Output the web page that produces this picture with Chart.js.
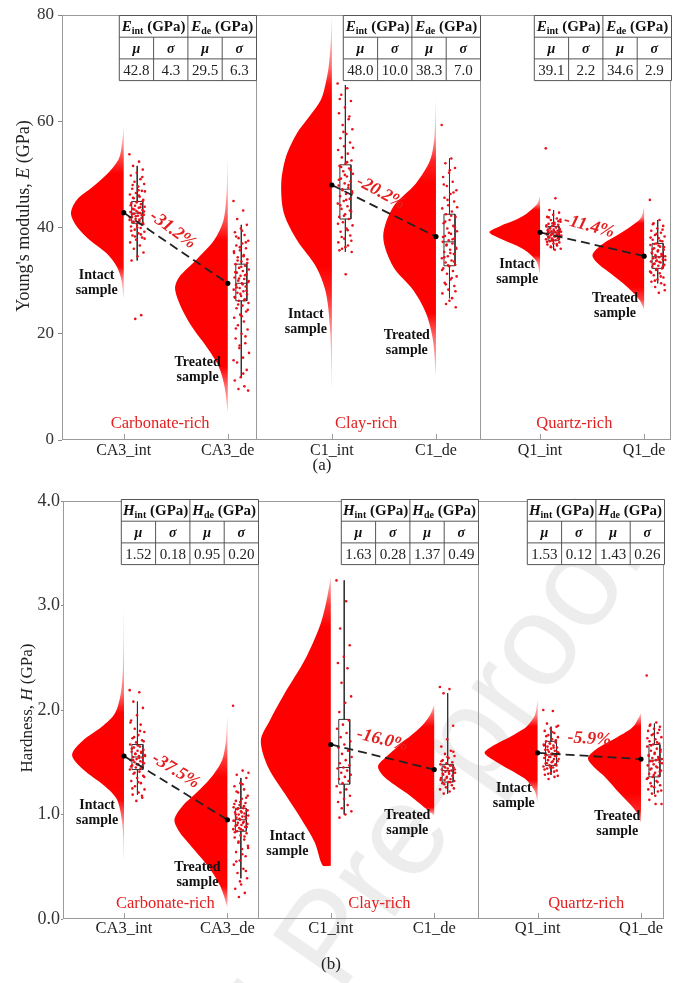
<!DOCTYPE html>
<html>
<head>
<meta charset="utf-8">
<script src="https://cdn.jsdelivr.net/npm/chart.js@4.4.1/dist/chart.umd.min.js"></script>
<style>
  html, body { margin: 0; padding: 0; background: #fff; }
  #wrap { position: relative; width: 675px; height: 983px; overflow: hidden; }
  .panel { position: absolute; left: 0; width: 675px; }
</style>
</head>
<body>
<div id="wrap">
  <div class="panel" style="top:0;height:480px"><canvas id="chartE"></canvas></div>
  <div class="panel" style="top:480px;height:503px"><canvas id="chartH"></canvas></div>
</div>
<script>
// categories shared by both panels
const categories = ["CA3_int", "CA3_de", "C1_int", "C1_de", "Q1_int", "Q1_de"];
const groupNames = ["Carbonate-rich", "Clay-rich", "Quartz-rich"];

// ---- (a) Young's modulus, GPa ----
const eTicks = [0, 20, 40, 60, 80];
const eMeans = [42.8, 29.5, 48.0, 38.3, 39.1, 34.6];
const eTable = [["42.8", "4.3", "29.5", "6.3"], ["48.0", "10.0", "38.3", "7.0"], ["39.1", "2.2", "34.6", "2.9"]];
const eChange = ["-31.2%", "-20.2%", "-11.4%"];
// box: [lower whisker, q1, median, q3, upper whisker]
const eBox = [
  [33.8, 40.8, 42.7, 44.9, 51.6],
  [11.8, 26.2, 29.5, 33.1, 40.5],
  [35.4, 41.6, 47.2, 51.8, 66.8],
  [26.7, 32.8, 37.3, 42.5, 53.0],
  [35.8, 37.6, 39.0, 40.2, 43.3],
  [29.5, 32.3, 34.5, 37.0, 41.4]
];
const ePoints = [
  [53.8, 52.4, 51.6, 50.9, 50.3, 49.8, 49.1, 48.6, 48.2, 47.7, 47.3, 46.9, 46.5, 46.2, 45.8, 45.5, 45.2, 44.9, 44.6, 44.4, 44.1, 43.9, 43.7, 43.5, 43.3, 43.1, 42.9, 42.7, 42.6, 42.4, 42.2, 42.0, 41.8, 41.6, 41.4, 41.2, 41.0, 40.8, 40.5, 40.2, 39.9, 39.6, 39.2, 38.9, 38.5, 38.1, 37.7, 37.2, 36.6, 36.0, 35.3, 34.6, 33.8, 23.5, 22.8,
   46.8, 46.0, 45.6, 45.0, 44.7, 44.2, 43.8, 43.4, 43.0, 42.8, 42.5, 42.3, 42.1, 41.9, 41.5, 41.1, 40.6, 40.0, 39.4, 38.7, 38.3, 37.9, 47.0, 48.0, 49.5],
  [45.0, 43.2, 41.6, 40.5, 39.8, 39.1, 38.6, 38.0, 37.5, 37.0, 36.6, 36.1, 35.7, 35.2, 34.8, 34.4, 34.0, 33.6, 33.1, 32.8, 32.4, 32.1, 31.8, 31.5, 31.2, 30.9, 30.6, 30.3, 30.0, 29.7, 29.5, 29.2, 28.9, 28.6, 28.3, 28.0, 27.7, 27.4, 27.1, 26.8, 26.5, 26.2, 25.8, 25.3, 24.8, 24.2, 23.6, 23.0, 22.3, 21.6, 20.8, 20.0, 19.1, 18.2, 17.3, 16.4, 15.5, 14.6, 13.2, 11.8, 11.2, 10.1, 9.6, 9.3,
   39.4, 38.3, 37.2, 36.3, 35.5, 34.6, 33.8, 33.3, 32.6, 31.6, 31.0, 30.4, 29.9, 29.3, 28.7, 28.1, 27.5, 26.9, 26.3, 25.5, 24.5, 23.3, 21.0, 19.5, 17.8, 15.0, 12.5],
  [67.1, 66.2, 65.0, 63.8, 62.6, 61.5, 60.4, 59.3, 58.5, 57.6, 56.8, 56.0, 55.3, 54.6, 53.9, 53.2, 52.6, 52.0, 51.6, 51.1, 50.6, 50.1, 49.6, 49.2, 48.7, 48.3, 47.9, 47.5, 47.2, 46.8, 46.3, 45.9, 45.4, 45.0, 44.5, 44.0, 43.5, 43.0, 42.5, 42.0, 41.6, 41.0, 40.4, 39.8, 39.2, 38.5, 37.9, 37.2, 36.6, 36.0, 35.4, 31.2,
   64.2, 60.9, 58.0, 55.0, 52.3, 51.4, 50.8, 49.9, 49.0, 48.0, 47.0, 46.5, 45.2, 44.2, 43.2, 42.2, 40.7, 39.5, 38.2, 37.5, 36.3, 35.7],
  [59.3, 53.0, 52.1, 51.2, 50.3, 49.5, 48.6, 47.8, 47.0, 46.3, 45.6, 44.9, 44.2, 43.6, 43.0, 42.5, 42.0, 41.4, 40.8, 40.3, 39.8, 39.3, 38.8, 38.4, 38.0, 37.6, 37.3, 37.0, 36.6, 36.2, 35.8, 35.4, 35.0, 34.6, 34.2, 33.8, 33.4, 33.0, 32.7, 32.3, 31.8, 31.3, 30.8, 30.2, 29.6, 29.0, 28.3, 27.6, 26.7, 25.6, 25.0,
   50.8, 48.1, 46.6, 45.2, 43.8, 42.2, 41.1, 40.0, 39.0, 38.2, 37.8, 36.8, 36.0, 35.2, 34.4, 33.6, 32.9, 32.0, 30.5, 29.3, 28.0, 26.2],
  [54.9, 45.5, 43.3, 42.8, 42.4, 42.0, 41.7, 41.4, 41.1, 40.9, 40.7, 40.5, 40.3, 40.2, 40.0, 39.9, 39.7, 39.6, 39.5, 39.4, 39.3, 39.2, 39.1, 39.0, 38.9, 38.8, 38.7, 38.6, 38.5, 38.4, 38.3, 38.2, 38.0, 37.9, 37.8, 37.6, 37.4, 37.2, 37.0, 36.8, 36.6, 36.3, 36.0, 35.8,
   41.9, 41.2, 40.8, 40.4, 40.1, 39.8, 39.6, 39.3, 39.1, 38.9, 38.7, 38.5, 38.3, 38.1, 37.9, 37.7, 37.3, 36.9, 36.4, 41.5, 40.6, 39.4, 38.6, 37.5],
  [45.2, 41.4, 40.8, 40.3, 39.8, 39.4, 39.0, 38.6, 38.3, 38.0, 37.7, 37.4, 37.0, 36.7, 36.4, 36.1, 35.8, 35.5, 35.3, 35.0, 34.8, 34.6, 34.4, 34.2, 34.0, 33.8, 33.6, 33.4, 33.2, 33.0, 32.8, 32.6, 32.3, 32.0, 31.7, 31.4, 31.0, 30.6, 30.2, 29.8, 29.5, 28.8, 28.2, 27.7,
   40.6, 39.6, 38.8, 38.1, 37.5, 36.9, 36.3, 35.7, 35.1, 34.7, 34.3, 33.9, 33.5, 33.1, 32.7, 32.2, 31.5, 30.8, 30.0, 29.2, 36.6, 35.9, 34.9, 33.7]
];
// half-violin outlines: [value, relative width]
const eViolin = [
  [[59, 0], [56, 0.03], [53, 0.09], [50.2, 0.30], [47.7, 0.58], [45.2, 0.89], [42.7, 1.0], [40.2, 0.89], [37.6, 0.64], [35.1, 0.32], [32.6, 0.13], [30, 0.04], [26.4, 0]],
  [[53.3, 0], [47, 0.02], [41.4, 0.08], [37.6, 0.26], [33.9, 0.60], [30.7, 0.92], [28.5, 1.0], [25.1, 0.89], [21.3, 0.68], [17.5, 0.40], [13.8, 0.17], [10, 0.06], [5, 0]],
  [[80, 0], [75, 0.02], [70.3, 0.06], [67, 0.12], [64, 0.21], [61, 0.42], [57.8, 0.66], [53.3, 0.87], [48.3, 0.96], [42.7, 0.91], [37.6, 0.66], [32.6, 0.30], [27.6, 0.11], [20, 0.03], [9.4, 0]],
  [[64, 0], [57, 0.03], [52.7, 0.11], [48.3, 0.38], [43.9, 0.81], [38.3, 1.0], [32.6, 0.81], [28.2, 0.43], [23.9, 0.19], [19, 0.06], [11.9, 0]],
  [[46, 0], [44.5, 0.05], [43.3, 0.17], [42.3, 0.3], [41.4, 0.47], [40.3, 0.75], [39.1, 0.96], [37.9, 0.75], [36.7, 0.47], [35.8, 0.3], [34.8, 0.17], [33.5, 0.06], [31, 0]],
  [[44, 0], [42, 0.05], [40.8, 0.17], [38.9, 0.45], [36.8, 0.80], [34.8, 0.98], [33, 0.85], [31.4, 0.64], [28.8, 0.32], [26.4, 0.09], [24.5, 0]]
];

// ---- (b) Hardness, GPa ----
const hTicks = [0, 1, 2, 3, 4];
const hMeans = [1.56, 0.95, 1.67, 1.43, 1.59, 1.53];
const hTable = [["1.52", "0.18", "0.95", "0.20"], ["1.63", "0.28", "1.37", "0.49"], ["1.53", "0.12", "1.43", "0.26"]];
const hChange = ["-37.5%", "-16.0%", "-5.9%"];
const hBox = [
  [1.19, 1.43, 1.55, 1.67, 2.08],
  [0.39, 0.84, 0.95, 1.06, 1.35],
  [1.00, 1.29, 1.45, 1.91, 3.24],
  [1.20, 1.31, 1.42, 1.48, 2.16],
  [1.38, 1.47, 1.57, 1.70, 1.84],
  [1.20, 1.36, 1.52, 1.67, 1.87]
];
const hPoints = [
  [2.19, 2.17, 2.08, 2.02, 1.95, 1.90, 1.86, 1.82, 1.79, 1.76, 1.73, 1.71, 1.69, 1.67, 1.65, 1.64, 1.62, 1.61, 1.60, 1.59, 1.58, 1.57, 1.56, 1.55, 1.54, 1.53, 1.52, 1.51, 1.50, 1.49, 1.48, 1.47, 1.46, 1.45, 1.43, 1.41, 1.39, 1.37, 1.35, 1.32, 1.30, 1.27, 1.24, 1.21, 1.19, 1.16, 1.13,
   1.88, 1.80, 1.74, 1.70, 1.66, 1.63, 1.60, 1.58, 1.56, 1.54, 1.52, 1.50, 1.48, 1.46, 1.44, 1.40, 1.36, 1.31, 1.25, 1.18],
  [2.04, 1.42, 1.38, 1.35, 1.30, 1.27, 1.24, 1.21, 1.18, 1.15, 1.13, 1.11, 1.09, 1.07, 1.06, 1.05, 1.04, 1.03, 1.02, 1.01, 1.00, 0.99, 0.98, 0.97, 0.96, 0.95, 0.94, 0.93, 0.92, 0.91, 0.90, 0.89, 0.88, 0.87, 0.86, 0.85, 0.84, 0.82, 0.80, 0.78, 0.76, 0.73, 0.70, 0.67, 0.64, 0.60, 0.56, 0.52, 0.48, 0.44, 0.39, 0.33, 0.29, 0.25, 0.21,
   1.40, 1.29, 1.22, 1.16, 1.12, 1.10, 1.08, 1.06, 1.04, 1.02, 1.00, 0.98, 0.96, 0.94, 0.92, 0.90, 0.88, 0.86, 0.83, 0.79, 0.74, 0.68, 0.62, 0.55, 0.46, 0.36],
  [3.24, 3.04, 2.78, 2.62, 2.51, 2.45, 2.40, 2.26, 2.13, 2.07, 1.98, 1.90, 1.86, 1.82, 1.78, 1.74, 1.70, 1.67, 1.64, 1.61, 1.58, 1.55, 1.52, 1.49, 1.47, 1.45, 1.44, 1.42, 1.40, 1.38, 1.36, 1.34, 1.32, 1.30, 1.27, 1.24, 1.21, 1.18, 1.15, 1.12, 1.09, 1.06, 1.03, 1.00, 0.97],
  [2.22, 2.20, 2.16, 1.85, 1.72, 1.65, 1.61, 1.58, 1.56, 1.54, 1.52, 1.50, 1.49, 1.48, 1.47, 1.46, 1.45, 1.44, 1.43, 1.42, 1.41, 1.40, 1.39, 1.38, 1.37, 1.36, 1.35, 1.34, 1.33, 1.32, 1.31, 1.30, 1.28, 1.26, 1.24, 1.22, 1.20,
   1.60, 1.55, 1.51, 1.47, 1.45, 1.43, 1.41, 1.39, 1.37, 1.35, 1.33, 1.31, 1.29, 1.25],
  [2.00, 1.99, 1.87, 1.84, 1.82, 1.80, 1.78, 1.76, 1.74, 1.72, 1.70, 1.69, 1.68, 1.67, 1.66, 1.65, 1.64, 1.63, 1.62, 1.61, 1.60, 1.59, 1.58, 1.57, 1.56, 1.55, 1.54, 1.53, 1.52, 1.51, 1.50, 1.49, 1.48, 1.47, 1.46, 1.45, 1.44, 1.42, 1.40, 1.38, 1.36, 1.34,
   1.85, 1.79, 1.75, 1.71, 1.68, 1.66, 1.64, 1.62, 1.60, 1.58, 1.57, 1.56, 1.55, 1.53, 1.51, 1.49, 1.47, 1.45, 1.43, 1.41, 1.39, 1.37],
  [2.33, 1.88, 1.86, 1.84, 1.82, 1.80, 1.78, 1.76, 1.74, 1.72, 1.70, 1.68, 1.67, 1.65, 1.63, 1.61, 1.60, 1.58, 1.57, 1.55, 1.54, 1.53, 1.52, 1.51, 1.50, 1.48, 1.47, 1.45, 1.44, 1.42, 1.40, 1.39, 1.37, 1.36, 1.34, 1.32, 1.30, 1.28, 1.26, 1.24, 1.22, 1.20, 1.10, 1.10,
   1.85, 1.81, 1.77, 1.73, 1.69, 1.66, 1.62, 1.59, 1.56, 1.53, 1.51, 1.49, 1.46, 1.43, 1.41, 1.38, 1.35, 1.31, 1.27, 1.23, 1.18, 1.14]
];
const hViolin = [
  [[2.98, 0], [2.4, 0.02], [2.16, 0.06], [1.97, 0.17], [1.84, 0.42], [1.71, 0.77], [1.57, 0.98], [1.43, 0.77], [1.27, 0.36], [1.14, 0.13], [0.9, 0.03], [0.56, 0]],
  [[1.95, 0], [1.7, 0.03], [1.52, 0.1], [1.36, 0.30], [1.2, 0.60], [1.08, 0.85], [0.95, 1.0], [0.83, 0.9], [0.73, 0.74], [0.5, 0.36], [0.31, 0.13], [0.11, 0]],
  [[3.27, 0], [3.0, 0.1], [2.8, 0.21], [2.48, 0.49], [2.16, 0.87], [1.9, 1.15], [1.71, 1.32], [1.46, 1.19], [1.2, 0.87], [0.95, 0.55], [0.73, 0.30], [0.51, 0.15], [0.51, 0]],
  [[2.05, 0], [1.95, 0.08], [1.84, 0.25], [1.68, 0.62], [1.55, 0.91], [1.46, 1.06], [1.36, 0.94], [1.2, 0.51], [1.07, 0.19], [0.99, 0]],
  [[2.1, 0], [1.95, 0.05], [1.84, 0.21], [1.79, 0.36], [1.74, 0.53], [1.67, 0.8], [1.59, 1.0], [1.51, 0.8], [1.43, 0.53], [1.38, 0.36], [1.33, 0.21], [1.22, 0.05], [1.11, 0]],
  [[1.97, 0], [1.84, 0.15], [1.74, 0.45], [1.64, 0.8], [1.54, 1.0], [1.45, 0.88], [1.36, 0.68], [1.2, 0.40], [1.04, 0.11], [0.92, 0]]
];

// label placement (x in category units, y in data units)
const eNoteAt = [[-0.26, 29.6], [0.71, 13.2], [1.75, 22.2], [2.72, 18.3], [3.78, 31.6], [4.72, 25.2]];
const eGroupAt = [[0.35, 3.0], [2.33, 3.0], [4.33, 3.0]];
const hNoteAt = [[-0.26, 1.02], [0.71, 0.42], [1.58, 0.72], [2.74, 0.92], [3.77, 1.18], [4.77, 0.91]];
const hGroupAt = [[0.40, 0.15], [2.47, 0.15], [4.47, 0.15]];

const SERIF = '"Liberation Serif", "Times New Roman", serif';
const RED = "#ff0000";
const LABEL_RED = "#e3201f";
const BOX_OFF = 0.13, BOX_HW = 0.053, JIT = 0.075;

function violinFill(c, prof) {
  const ch = c.chart, ys = ch.scales && ch.scales.y;
  if (!ch.chartArea || !ys) return RED;
  const top = ys.getPixelForValue(prof[0][0]);
  const bot = ys.getPixelForValue(prof[prof.length - 1][0]);
  if (!(bot > top)) return RED;
  const gr = ch.ctx.createLinearGradient(0, top, 0, bot);
  prof.forEach(p => {
    const off = Math.min(1, Math.max(0, (ys.getPixelForValue(p[0]) - top) / (bot - top)));
    const a = Math.min(1, 0.2 + p[1] * 6);
    gr.addColorStop(off, "rgba(255,0,0," + a + ")");
  });
  return gr;
}

function makeDatasets(vio, vScale, box, pts, means) {
  const out = [];
  vio.forEach((prof, g) => {
    out.push({
      type: "line", order: 4,
      data: prof.map(p => ({ x: g - p[1] * vScale, y: p[0] })),
      borderColor: "rgba(0,0,0,0)", borderWidth: 0, pointRadius: 0,
      tension: 0.3, fill: "shape",
      backgroundColor: c => violinFill(c, prof)
    });
  });
  pts.forEach((vals, g) => {
    out.push({
      type: "scatter", order: 1,
      data: vals.map((v, i) => ({ x: g + BOX_OFF + JIT * 2 * (((i * 0.618034) % 1) - 0.5), y: v })),
      pointRadius: 1.3, pointBorderWidth: 0, backgroundColor: "#e8101a"
    });
  });
  box.forEach((b, g) => {
    const cx = g + BOX_OFF, l = cx - BOX_HW, r = cx + BOX_HW;
    out.push({
      type: "line", order: 2, spanGaps: false, fill: false, tension: 0,
      data: [
        { x: cx, y: b[4] }, { x: cx, y: b[3] }, { x: cx, y: null },
        { x: l, y: b[3] }, { x: r, y: b[3] }, { x: r, y: b[1] }, { x: l, y: b[1] }, { x: l, y: b[3] }, { x: cx, y: null },
        { x: l, y: b[2] }, { x: r, y: b[2] }, { x: cx, y: null },
        { x: cx, y: b[1] }, { x: cx, y: b[0] }
      ],
      borderColor: "#333", borderWidth: 1, pointRadius: 0
    });
  });
  for (let k = 0; k < 3; k++) {
    out.push({
      type: "line", order: 0, fill: false,
      data: [{ x: 2 * k, y: means[2 * k] }, { x: 2 * k + 1, y: means[2 * k + 1] }],
      borderColor: "#222", borderWidth: 1.8, borderDash: [9, 5],
      pointRadius: 2.6, pointBorderWidth: 0, pointBackgroundColor: "#000"
    });
  }
  return out;
}

function drawRich(ctx, parts, x, y) {
  let w = 0;
  parts.forEach(p => { ctx.font = p.font; w += ctx.measureText(p.t).width; });
  let cx = x - w / 2;
  ctx.textAlign = "left";
  ctx.textBaseline = "middle";
  parts.forEach(p => {
    ctx.font = p.font;
    ctx.fillText(p.t, cx, y + (p.dy || 0));
    cx += ctx.measureText(p.t).width;
  });
}

function drawTable(ctx, right, top, sym, vals) {
  const cw = 34.3, rh = 21.7, left = right - cw * 4;
  ctx.fillStyle = "#fff";
  ctx.fillRect(left, top, cw * 4, rh * 3);
  ctx.strokeStyle = "#555";
  ctx.lineWidth = 1;
  ctx.beginPath();
  for (let r = 0; r <= 3; r++) { ctx.moveTo(left, top + r * rh); ctx.lineTo(right, top + r * rh); }
  [0, 2, 4].forEach(c => { ctx.moveTo(left + c * cw, top); ctx.lineTo(left + c * cw, top + 3 * rh); });
  [1, 3].forEach(c => { ctx.moveTo(left + c * cw, top + rh); ctx.lineTo(left + c * cw, top + 3 * rh); });
  ctx.stroke();
  ctx.fillStyle = "#111";
  ["int", "de"].forEach((sub, i) => {
    drawRich(ctx, [
      { t: sym, font: "italic bold 15px " + SERIF },
      { t: sub, font: "bold 10px " + SERIF, dy: 4 },
      { t: " (GPa)", font: "bold 15px " + SERIF }
    ], left + cw * (2 * i + 1), top + rh / 2 + 1);
  });
  ["\u03bc", "\u03c3", "\u03bc", "\u03c3"].forEach((s, i) => {
    drawRich(ctx, [{ t: s, font: "italic bold 14px " + SERIF }], left + cw * (i + 0.5), top + rh * 1.5 + 1);
  });
  ctx.fillStyle = "#222";
  vals.forEach((v, i) => {
    drawRich(ctx, [{ t: v, font: "15px " + SERIF }], left + cw * (i + 0.5), top + rh * 2.5 + 1);
  });
}

function decor(cfg) {
  return {
    id: "decor",
    beforeDatasetsDraw(chart) {
      if (!cfg.watermark) return;
      const ctx = chart.ctx;
      ctx.save();
      ctx.translate(cfg.watermark[0], cfg.watermark[1]);
      ctx.rotate(-55 * Math.PI / 180);
      ctx.font = '130px "Liberation Sans", Arial, sans-serif';
      ctx.fillStyle = "rgba(0,0,0,0.07)";
      ctx.textAlign = "left";
      ctx.textBaseline = "alphabetic";
      const jw = ctx.measureText("Journal ").width;
      ctx.fillText("Journal Pre-proof", -jw, 0);
      ctx.restore();
    },
    afterDraw(chart) {
      const { ctx, chartArea: a, scales: { x, y } } = chart;
      ctx.save();
      // frame, separators, inward ticks
      ctx.strokeStyle = "#9a9a9a";
      ctx.lineWidth = 1;
      ctx.strokeRect(a.left + 0.5, a.top + 0.5, a.right - a.left - 1, a.bottom - a.top - 1);
      ctx.beginPath();
      cfg.separators.forEach(s => {
        const px = Math.round(x.getPixelForValue(s)) + 0.5;
        ctx.moveTo(px, a.top); ctx.lineTo(px, a.bottom);
      });
      categories.forEach((c, i) => {
        const px = Math.round(x.getPixelForValue(i)) + 0.5;
        ctx.moveTo(px, a.bottom); ctx.lineTo(px, a.bottom - 6);
      });
      ctx.stroke();

      // tables at the top-right of each panel
      const rights = [x.getPixelForValue(cfg.separators[0]), x.getPixelForValue(cfg.separators[1]), a.right];
      rights.forEach((r, k) => drawTable(ctx, Math.round(r) + 0.5, a.top + 0.5 + cfg.tableDy, cfg.sym, cfg.table[k]));

      // change labels along the mean lines
      ctx.fillStyle = LABEL_RED;
      cfg.change.forEach((t, k) => {
        const x1 = x.getPixelForValue(2 * k), y1 = y.getPixelForValue(cfg.means[2 * k]);
        const x2 = x.getPixelForValue(2 * k + 1), y2 = y.getPixelForValue(cfg.means[2 * k + 1]);
        const ang = Math.atan2(y2 - y1, x2 - x1) + cfg.extraRot;
        ctx.save();
        ctx.translate((x1 + x2) / 2 + cfg.changeOff[0], (y1 + y2) / 2 + cfg.changeOff[1]);
        ctx.rotate(ang);
        drawRich(ctx, [{ t: t, font: "italic bold 18px " + SERIF }], 0, 0);
        ctx.restore();
      });

      // sample notes
      ctx.fillStyle = "#111";
      cfg.notes.forEach((p, i) => {
        const px = x.getPixelForValue(p[0]), py = y.getPixelForValue(p[1]);
        const first = i % 2 === 0 ? "Intact" : "Treated";
        drawRich(ctx, [{ t: first, font: "bold 14px " + SERIF }], px, py - 7.5);
        drawRich(ctx, [{ t: "sample", font: "bold 14px " + SERIF }], px, py + 7.5);
      });

      // group names
      ctx.fillStyle = LABEL_RED;
      cfg.groups.forEach((p, k) => {
        drawRich(ctx, [{ t: groupNames[k], font: "16.5px " + SERIF }], x.getPixelForValue(p[0]), y.getPixelForValue(p[1]));
      });

      // y-axis title
      ctx.fillStyle = "#222";
      ctx.save();
      ctx.translate(cfg.yTitle[0], cfg.yTitle[1]);
      ctx.rotate(-Math.PI / 2);
      drawRich(ctx, cfg.yTitleParts, 0, 0);
      ctx.restore();

      // panel letter
      drawRich(ctx, [{ t: cfg.panel, font: "17px " + SERIF }], cfg.panelAt[0], cfg.panelAt[1]);
      ctx.restore();
    }
  };
}

function makeChart(id, o) {
  return new Chart(document.getElementById(id), {
    type: "scatter",
    data: { datasets: makeDatasets(o.violin, o.vScale, o.box, o.points, o.means) },
    options: {
      responsive: true,
      maintainAspectRatio: false,
      devicePixelRatio: 1,
      animation: false,
      events: [],
      layout: { padding: o.padding },
      plugins: { legend: { display: false }, tooltip: { enabled: false } },
      scales: {
        x: {
          type: "linear", min: o.xRange[0], max: o.xRange[1],
          grid: { display: false, drawTicks: false },
          border: { display: false },
          afterBuildTicks: s => { s.ticks = categories.map((c, i) => ({ value: i })); },
          afterFit: s => { s.height = o.xHeight; },
          ticks: {
            autoSkip: false, maxRotation: 0, padding: o.xPad, color: "#222",
            font: { family: SERIF, size: o.xFont },
            callback: v => categories[v]
          }
        },
        y: {
          type: "linear", min: o.ticks[0], max: o.ticks[o.ticks.length - 1],
          grid: { display: true, drawOnChartArea: false, drawTicks: true, tickLength: o.yTick, color: "#888" },
          border: { display: false },
          afterBuildTicks: s => { s.ticks = o.ticks.map(v => ({ value: v })); },
          afterFit: s => { s.width = o.yWidth; },
          ticks: {
            padding: o.yPad, color: "#333",
            font: { family: SERIF, size: o.yFont },
            callback: o.fmt
          }
        }
      }
    },
    plugins: [decor(o.decor)]
  });
}

makeChart("chartE", {
  violin: eViolin, vScale: 53 / 104.6, box: eBox, points: ePoints, means: eMeans,
  padding: { left: 0, top: 15, right: 1, bottom: 0 },
  xRange: [-62 / 104.6, 550 / 104.6], xHeight: 40, xPad: 1, xFont: 16,
  ticks: eTicks, yTick: 4, yPad: 4, yWidth: 62, yFont: 17, fmt: v => String(v),
  decor: {
    sym: "E", table: eTable, change: eChange, means: eMeans, notes: eNoteAt, groups: eGroupAt,
    separators: [1.2715, 3.4226], tableDy: 0, changeOff: [-3, -18], extraRot: 2 * Math.PI / 180,
    yTitle: [24, 216],
    yTitleParts: [
      { t: "Young's modulus, ", font: "18px " + SERIF },
      { t: "E", font: "italic 18px " + SERIF },
      { t: " (GPa)", font: "18px " + SERIF }
    ],
    panel: "(a)", panelAt: [322, 466]
  }
});

makeChart("chartH", {
  violin: hViolin, vScale: 53 / 103.4, box: hBox, points: hPoints, means: hMeans,
  padding: { left: 0, top: 21, right: 11, bottom: 0 },
  xRange: [-61 / 103.4, 540 / 103.4], xHeight: 64, xPad: 0, xFont: 16.5,
  ticks: hTicks, yTick: 2, yPad: 1, yWidth: 63, yFont: 18, fmt: v => v.toFixed(1),
  decor: {
    sym: "H", table: hTable, change: hChange, means: hMeans, notes: hNoteAt, groups: hGroupAt,
    separators: [1.296, 3.4236], tableDy: -2, changeOff: [0, -17], extraRot: 0,
    yTitle: [28, 228],
    yTitleParts: [
      { t: "Hardness, ", font: "17px " + SERIF },
      { t: "H", font: "italic 17px " + SERIF },
      { t: " (GPa)", font: "17px " + SERIF }
    ],
    panel: "(b)", panelAt: [331, 485],
    watermark: [340, 515]
  }
});
</script>
</body>
</html>
